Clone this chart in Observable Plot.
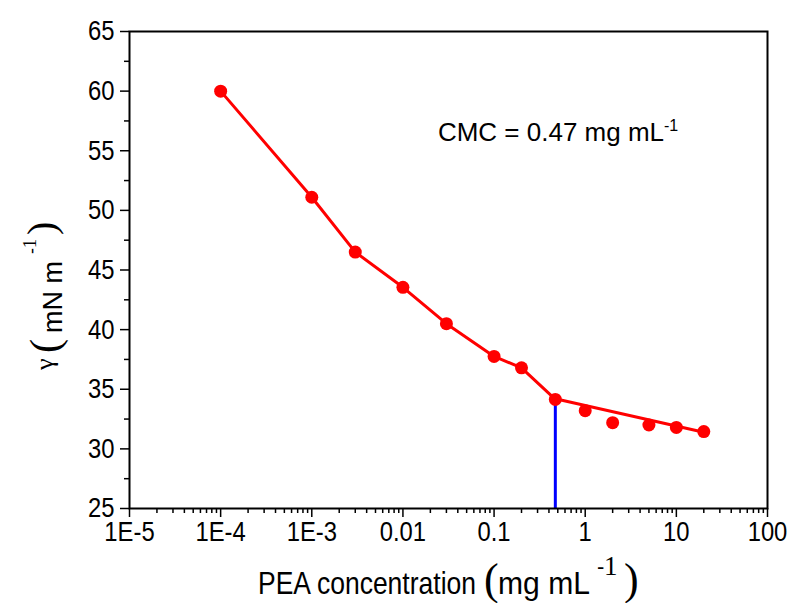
<!DOCTYPE html>
<html><head><meta charset="utf-8">
<script src="https://cdn.jsdelivr.net/npm/d3@7"></script>
<script src="https://cdn.jsdelivr.net/npm/@observablehq/plot@0.6"></script>
<style>html,body{margin:0;padding:0;background:#fff} svg{display:block}</style>
</head><body><div id="chart"></div>
<script>
// Measured data (PEA concentration, mg/mL vs surface tension, mN/m)
const concentration = [1e-4, 1e-3, 3e-3, 0.01, 0.03, 0.1, 0.2, 0.47, 1, 2, 5, 10, 20];
const tension = [60.0, 51.1, 46.5, 43.55, 40.5, 37.75, 36.8, 34.15, 33.2, 32.2, 32.0, 31.8, 31.45];
// Pre-CMC connecting curve
const leftCurveX = [1e-4, 1e-3, 3e-3, 0.01, 0.03, 0.1, 0.2, 0.47];
const leftCurveY = [60.0, 51.1, 46.5, 43.55, 40.5, 37.75, 36.8, 34.15];
// Post-CMC linear fit
const fitX = [0.47, 20];
const fitY = [34.2, 31.4];
// CMC marker
const cmcX = [0.47];
const cmcTop = [34.15];
// Ticks
const xTicks = [1e-5, 1e-4, 1e-3, 0.01, 0.1, 1, 10, 100];
const xTickLabels = ["1E-5", "1E-4", "1E-3", "0.01", "0.1", "1", "10", "100"];
const yTicks = [25, 30, 35, 40, 45, 50, 55, 60, 65];
const yMinorTicks = [27.5, 32.5, 37.5, 42.5, 47.5, 52.5, 57.5, 62.5];
// Annotation anchor (data coords)
const annX = [0.0245];
const annY = [55.8];

const points = concentration.map((c, i) => ({c, t: tension[i]}));
const leftCurve = leftCurveX.map((c, i) => ({c, t: leftCurveY[i]}));
const fit = fitX.map((c, i) => ({c, t: fitY[i]}));
const cmc = cmcX.map((c, i) => ({c, top: cmcTop[i]}));
const xMinorTicks = d3.scaleLog().domain([1e-5, 100]).ticks().filter(v => !xTicks.some(m => Math.abs(m - v) / m < 1e-9));

const sans = "'Liberation Sans', Arial, Helvetica, sans-serif";
const serif = "'Liberation Serif', 'Times New Roman', Times, serif";
const tickFont = 28;
const condense = 0.85;

const plot = Plot.plot({
  width: 793,
  height: 603,
  marginLeft: 129,
  marginRight: 26,
  marginTop: 31,
  marginBottom: 95,
  style: {fontFamily: sans, fontSize: tickFont + "px", color: "black", background: "white"},
  x: {type: "log", domain: [1e-5, 100]},
  y: {domain: [25, 65]},
  marks: [
    Plot.axisX({ticks: xMinorTicks, tickSize: 5, tickFormat: () => "", strokeWidth: 1.5, label: null}),
    Plot.axisX({ticks: xTicks, tickSize: 9, tickPadding: 4, fontSize: tickFont, strokeWidth: 1.5, label: null,
      tickFormat: d => xTickLabels[xTicks.indexOf(d)]}),
    Plot.axisY({ticks: yMinorTicks, tickSize: 5, tickFormat: () => "", strokeWidth: 1.5, label: null}),
    Plot.axisY({ticks: yTicks, tickSize: 9, tickPadding: 6, fontSize: tickFont, strokeWidth: 1.5, label: null}),
    Plot.ruleX(cmc, {x: "c", y1: 25, y2: "top", stroke: "#0000ff", strokeWidth: 3}),
    Plot.line(leftCurve, {x: "c", y: "t", stroke: "#ff0000", strokeWidth: 3}),
    Plot.line(fit, {x: "c", y: "t", stroke: "#ff0000", strokeWidth: 3}),
    Plot.dot(points, {x: "c", y: "t", r: 6.5, fill: "#ff0000", stroke: "none"}),
    Plot.frame({stroke: "black", strokeWidth: 2})
  ]
});

document.getElementById("chart").appendChild(plot);
const svg = d3.select(plot);
// tick labels: Arial-like, slightly condensed like the original
svg.selectAll("text").each(function () {
  this.setAttribute("font-size", String(tickFont));
  this.style.fontSize = tickFont + "px";
  this.style.fontFamily = sans;
  const len = this.getComputedTextLength();
  if (len > 0) {
    this.setAttribute("textLength", (len * condense).toFixed(1));
    this.setAttribute("lengthAdjust", "spacingAndGlyphs");
  }
});
const sx = plot.scale("x"), sy = plot.scale("y");

// Annotation
const ax = sx.apply(annX[0]), ay = sy.apply(annY[0]);
const ann = svg.append("text").attr("x", ax).attr("y", ay).attr("text-anchor", "start")
  .attr("font-family", sans).attr("font-size", 26).attr("fill", "black");
ann.append("tspan").text("CMC = 0.47 mg mL");
ann.append("tspan").attr("font-size", 16).attr("dy", -10).text("-1");

// X axis title
const xl = svg.append("g").attr("fill", "black").attr("text-anchor", "start");
xl.append("text").attr("x", 258).attr("y", 594).attr("font-family", sans).attr("font-size", 32)
  .attr("textLength", 218).attr("lengthAdjust", "spacingAndGlyphs").text("PEA concentration");
xl.append("text").attr("x", 484).attr("y", 594).attr("font-family", serif).attr("font-size", 44).text("(");
xl.append("text").attr("x", 498).attr("y", 594).attr("font-family", sans).attr("font-size", 32)
  .attr("textLength", 92).attr("lengthAdjust", "spacingAndGlyphs").text("mg mL");
xl.append("text").attr("x", 597).attr("y", 574).attr("font-family", sans).attr("font-size", 22).text("-");
xl.append("text").attr("x", 604).attr("y", 575).attr("font-family", serif).attr("font-size", 27).text("1");
xl.append("text").attr("x", 624).attr("y", 594).attr("font-family", serif).attr("font-size", 44).text(")");

// Y axis title (rotated)
const yl = svg.append("g").attr("transform", "translate(62,370) rotate(-90)").attr("fill", "black").attr("text-anchor", "start");
const yt = yl.append("text");
yt.append("tspan").attr("x", 0).attr("y", -9).attr("font-family", serif).attr("font-size", 26).text("\u03B3");
yt.append("tspan").attr("x", 17).attr("y", -3).attr("font-family", serif).attr("font-size", 42).text("(");
yt.append("tspan").attr("x", 37).attr("y", 0).attr("font-family", sans).attr("font-size", 27).text("mN m");
yt.append("tspan").attr("x", 116).attr("y", -24).attr("font-family", sans).attr("font-size", 18).text("-");
yt.append("tspan").attr("x", 122).attr("y", -26).attr("font-family", serif).attr("font-size", 18).text("1");
yt.append("tspan").attr("x", 135).attr("y", -7).attr("font-family", serif).attr("font-size", 40).text(")");
</script>
</body></html>
